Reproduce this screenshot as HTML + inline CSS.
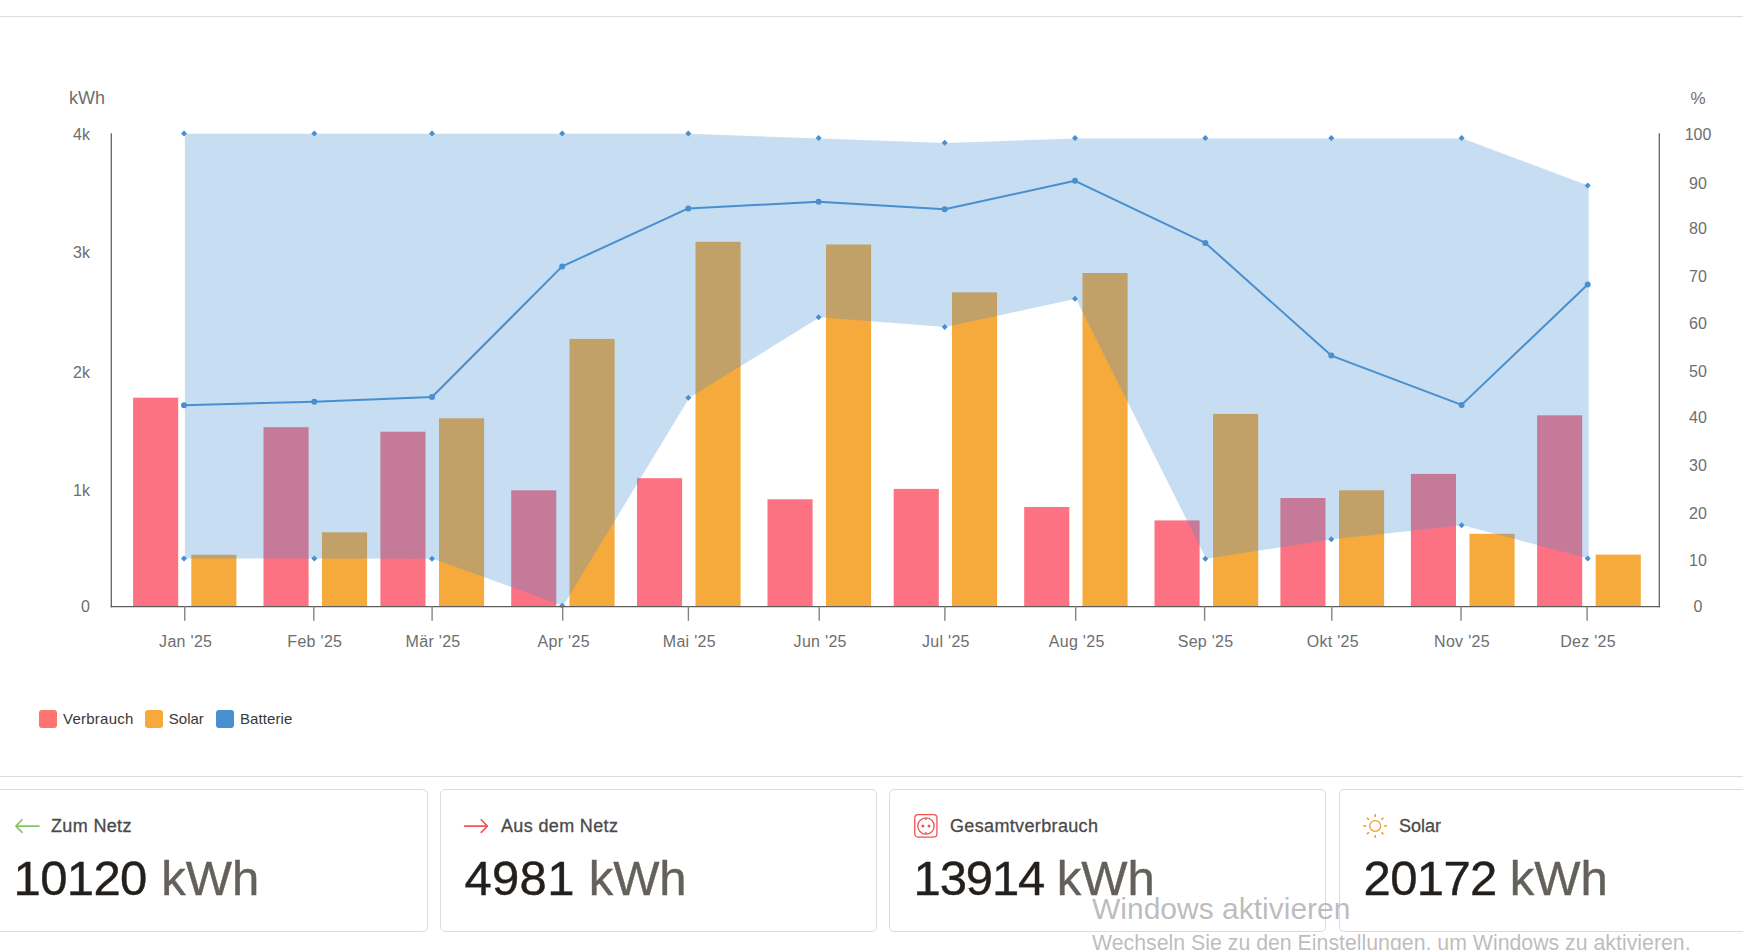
<!DOCTYPE html>
<html><head><meta charset="utf-8">
<style>
html,body{margin:0;padding:0;background:#fff;}
body{width:1743px;height:950px;overflow:hidden;position:relative;font-family:"Liberation Sans",sans-serif;}
.topline{position:absolute;left:0;top:16px;width:1743px;height:1px;background:#dddddd;}
.chart{position:absolute;left:0;top:0;}
.legend{position:absolute;top:710px;left:0;height:18px;}
.lg{position:absolute;top:0;height:18px;}
.sw{position:absolute;left:0;top:0;width:18px;height:18px;border-radius:3px;}
.lt{position:absolute;top:1px;font-size:15px;line-height:16px;color:#383838;white-space:nowrap;letter-spacing:0.25px;}
.sep{position:absolute;left:0;top:776px;width:1743px;height:1px;background:#dedcd9;}
.card{position:absolute;top:789px;width:435px;height:141px;border:1px solid #dedcd9;border-radius:5px;box-sizing:content-box;}
.ic{position:absolute;left:24px;top:24px;width:25px;height:25px;overflow:visible;}
.ct{position:absolute;left:60px;top:26px;font-size:18px;line-height:20px;color:#4a4a4a;white-space:nowrap;letter-spacing:0.35px;-webkit-text-stroke:0.3px #4a4a4a;}
.num{position:absolute;left:23.5px;top:59.5px;font-size:49px;line-height:56px;color:#231f1c;white-space:nowrap;letter-spacing:-0.6px;-webkit-text-stroke-width:0.4px;}
.num span{color:#64605c;letter-spacing:0;}
.wm1{position:absolute;left:1092px;top:891.5px;font-size:30px;line-height:34px;color:rgba(160,160,160,0.7);white-space:nowrap;}
.wm2{position:absolute;left:1092px;top:929.5px;font-size:21.3px;line-height:26px;color:rgba(160,160,160,0.7);white-space:nowrap;}
</style></head><body>
<div class="topline"></div>
<svg class="chart" width="1743" height="770" viewBox="0 0 1743 770">
<rect x="133.1" y="397.7" width="45.1" height="208.8" fill="#FC7282"/>
<rect x="191.3" y="554.8" width="45.1" height="51.7" fill="#F7AA3C"/>
<rect x="263.5" y="427.2" width="45.1" height="179.3" fill="#FC7282"/>
<rect x="322" y="532.3" width="45.1" height="74.2" fill="#F7AA3C"/>
<rect x="380.4" y="431.7" width="45.1" height="174.8" fill="#FC7282"/>
<rect x="439" y="418.3" width="45.1" height="188.2" fill="#F7AA3C"/>
<rect x="511.2" y="490.3" width="45.1" height="116.2" fill="#FC7282"/>
<rect x="569.5" y="338.9" width="45.1" height="267.6" fill="#F7AA3C"/>
<rect x="637" y="478.2" width="45.1" height="128.3" fill="#FC7282"/>
<rect x="695.5" y="241.8" width="45.1" height="364.7" fill="#F7AA3C"/>
<rect x="767.5" y="499.3" width="45.1" height="107.2" fill="#FC7282"/>
<rect x="826" y="244.5" width="45.1" height="362.0" fill="#F7AA3C"/>
<rect x="893.7" y="488.9" width="45.1" height="117.6" fill="#FC7282"/>
<rect x="952" y="292.4" width="45.1" height="314.1" fill="#F7AA3C"/>
<rect x="1024.2" y="507" width="45.1" height="99.5" fill="#FC7282"/>
<rect x="1082.5" y="273" width="45.1" height="333.5" fill="#F7AA3C"/>
<rect x="1154.5" y="520.4" width="45.1" height="86.1" fill="#FC7282"/>
<rect x="1213.1" y="413.9" width="45.1" height="192.6" fill="#F7AA3C"/>
<rect x="1280.4" y="498" width="45.1" height="108.5" fill="#FC7282"/>
<rect x="1339" y="490.3" width="45.1" height="116.2" fill="#F7AA3C"/>
<rect x="1410.9" y="473.9" width="45.1" height="132.6" fill="#FC7282"/>
<rect x="1469.5" y="533.8" width="45.1" height="72.7" fill="#F7AA3C"/>
<rect x="1537.1" y="415.3" width="45.1" height="191.2" fill="#FC7282"/>
<rect x="1595.7" y="554.6" width="45.1" height="51.9" fill="#F7AA3C"/>
<polygon points="184.9,133.8 315.2,133.8 432.9,133.8 563.2,133.8 689.3,133.8 819.6,138.5 945.6,143.1 1075.9,138.5 1206.2,138.5 1332.3,138.5 1462.6,138.5 1588.7,185.8 1588.7,558.4 1462.6,525.3 1332.3,539.3 1206.2,558.7 1075.9,298.7 945.6,326.9 819.6,317.3 689.3,397.8 563.2,605.8 432.9,558.7 315.2,558.6 184.9,558.6" fill="#478FCF" fill-opacity="0.3"/>
<polyline points="184.0,405.3 314.3,401.7 432.0,397.0 562.2,266.4 688.3,208.4 818.6,201.8 944.7,209.2 1075.0,180.8 1205.3,242.9 1331.3,355.6 1461.6,404.9 1587.7,284.5" fill="none" stroke="#478FCF" stroke-width="2" stroke-linejoin="round"/>
<path d="M184.0 130.4L187.0 133.4L184.0 136.4L181.0 133.4Z" fill="#478FCF"/>
<path d="M184.0 555.6L187.0 558.6L184.0 561.6L181.0 558.6Z" fill="#478FCF"/>
<circle cx="184.0" cy="405.3" r="3" fill="#478FCF"/>
<path d="M314.3 130.4L317.3 133.4L314.3 136.4L311.3 133.4Z" fill="#478FCF"/>
<path d="M314.3 555.6L317.3 558.6L314.3 561.6L311.3 558.6Z" fill="#478FCF"/>
<circle cx="314.3" cy="401.7" r="3" fill="#478FCF"/>
<path d="M432.0 130.4L435.0 133.4L432.0 136.4L429.0 133.4Z" fill="#478FCF"/>
<path d="M432.0 555.7L435.0 558.7L432.0 561.7L429.0 558.7Z" fill="#478FCF"/>
<circle cx="432.0" cy="397.0" r="3" fill="#478FCF"/>
<path d="M562.2 130.4L565.2 133.4L562.2 136.4L559.2 133.4Z" fill="#478FCF"/>
<path d="M562.2 602.8L565.2 605.8L562.2 608.8L559.2 605.8Z" fill="#478FCF"/>
<circle cx="562.2" cy="266.4" r="3" fill="#478FCF"/>
<path d="M688.3 130.4L691.3 133.4L688.3 136.4L685.3 133.4Z" fill="#478FCF"/>
<path d="M688.3 394.8L691.3 397.8L688.3 400.8L685.3 397.8Z" fill="#478FCF"/>
<circle cx="688.3" cy="208.4" r="3" fill="#478FCF"/>
<path d="M818.6 135.1L821.6 138.1L818.6 141.1L815.6 138.1Z" fill="#478FCF"/>
<path d="M818.6 314.3L821.6 317.3L818.6 320.3L815.6 317.3Z" fill="#478FCF"/>
<circle cx="818.6" cy="201.8" r="3" fill="#478FCF"/>
<path d="M944.7 139.7L947.7 142.7L944.7 145.7L941.7 142.7Z" fill="#478FCF"/>
<path d="M944.7 323.9L947.7 326.9L944.7 329.9L941.7 326.9Z" fill="#478FCF"/>
<circle cx="944.7" cy="209.2" r="3" fill="#478FCF"/>
<path d="M1075.0 135.1L1078.0 138.1L1075.0 141.1L1072.0 138.1Z" fill="#478FCF"/>
<path d="M1075.0 295.7L1078.0 298.7L1075.0 301.7L1072.0 298.7Z" fill="#478FCF"/>
<circle cx="1075.0" cy="180.8" r="3" fill="#478FCF"/>
<path d="M1205.3 135.1L1208.3 138.1L1205.3 141.1L1202.3 138.1Z" fill="#478FCF"/>
<path d="M1205.3 555.7L1208.3 558.7L1205.3 561.7L1202.3 558.7Z" fill="#478FCF"/>
<circle cx="1205.3" cy="242.9" r="3" fill="#478FCF"/>
<path d="M1331.3 135.1L1334.3 138.1L1331.3 141.1L1328.3 138.1Z" fill="#478FCF"/>
<path d="M1331.3 536.3L1334.3 539.3L1331.3 542.3L1328.3 539.3Z" fill="#478FCF"/>
<circle cx="1331.3" cy="355.6" r="3" fill="#478FCF"/>
<path d="M1461.6 135.1L1464.6 138.1L1461.6 141.1L1458.6 138.1Z" fill="#478FCF"/>
<path d="M1461.6 522.3L1464.6 525.3L1461.6 528.3L1458.6 525.3Z" fill="#478FCF"/>
<circle cx="1461.6" cy="404.9" r="3" fill="#478FCF"/>
<path d="M1587.7 182.4L1590.7 185.4L1587.7 188.4L1584.7 185.4Z" fill="#478FCF"/>
<path d="M1587.7 555.4L1590.7 558.4L1587.7 561.4L1584.7 558.4Z" fill="#478FCF"/>
<circle cx="1587.7" cy="284.5" r="3" fill="#478FCF"/>
<path d="M111.3 133.3V607.3" stroke="#5f5d59" stroke-width="1.25" fill="none"/>
<path d="M1659.3 133.3V607.3" stroke="#5f5d59" stroke-width="1.25" fill="none"/>
<path d="M110.7 606.7H1660" stroke="#5f5d59" stroke-width="1.25" fill="none"/>
<path d="M184.74 606V620.8" stroke="#858480" stroke-width="1.4" fill="none"/>
<path d="M313.8 606V620.8" stroke="#858480" stroke-width="1.4" fill="none"/>
<path d="M432.1 606V620.8" stroke="#858480" stroke-width="1.4" fill="none"/>
<path d="M562.7 606V620.8" stroke="#858480" stroke-width="1.4" fill="none"/>
<path d="M688.4 606V620.8" stroke="#858480" stroke-width="1.4" fill="none"/>
<path d="M819.2 606V620.8" stroke="#858480" stroke-width="1.4" fill="none"/>
<path d="M944.9 606V620.8" stroke="#858480" stroke-width="1.4" fill="none"/>
<path d="M1075.7 606V620.8" stroke="#858480" stroke-width="1.4" fill="none"/>
<path d="M1204.6 606V620.8" stroke="#858480" stroke-width="1.4" fill="none"/>
<path d="M1331.8 606V620.8" stroke="#858480" stroke-width="1.4" fill="none"/>
<path d="M1461 606V620.8" stroke="#858480" stroke-width="1.4" fill="none"/>
<path d="M1587.1 606V620.8" stroke="#858480" stroke-width="1.4" fill="none"/>
<text x="185.7" y="647" text-anchor="middle" font-size="16" letter-spacing="0.3" fill="#6e6e6e" font-family="Liberation Sans, sans-serif">Jan '25</text>
<text x="314.8" y="647" text-anchor="middle" font-size="16" letter-spacing="0.3" fill="#6e6e6e" font-family="Liberation Sans, sans-serif">Feb '25</text>
<text x="433.1" y="647" text-anchor="middle" font-size="16" letter-spacing="0.3" fill="#6e6e6e" font-family="Liberation Sans, sans-serif">Mär '25</text>
<text x="563.7" y="647" text-anchor="middle" font-size="16" letter-spacing="0.3" fill="#6e6e6e" font-family="Liberation Sans, sans-serif">Apr '25</text>
<text x="689.4" y="647" text-anchor="middle" font-size="16" letter-spacing="0.3" fill="#6e6e6e" font-family="Liberation Sans, sans-serif">Mai '25</text>
<text x="820.2" y="647" text-anchor="middle" font-size="16" letter-spacing="0.3" fill="#6e6e6e" font-family="Liberation Sans, sans-serif">Jun '25</text>
<text x="945.9" y="647" text-anchor="middle" font-size="16" letter-spacing="0.3" fill="#6e6e6e" font-family="Liberation Sans, sans-serif">Jul '25</text>
<text x="1076.7" y="647" text-anchor="middle" font-size="16" letter-spacing="0.3" fill="#6e6e6e" font-family="Liberation Sans, sans-serif">Aug '25</text>
<text x="1205.6" y="647" text-anchor="middle" font-size="16" letter-spacing="0.3" fill="#6e6e6e" font-family="Liberation Sans, sans-serif">Sep '25</text>
<text x="1332.8" y="647" text-anchor="middle" font-size="16" letter-spacing="0.3" fill="#6e6e6e" font-family="Liberation Sans, sans-serif">Okt '25</text>
<text x="1462.0" y="647" text-anchor="middle" font-size="16" letter-spacing="0.3" fill="#6e6e6e" font-family="Liberation Sans, sans-serif">Nov '25</text>
<text x="1588.1" y="647" text-anchor="middle" font-size="16" letter-spacing="0.3" fill="#6e6e6e" font-family="Liberation Sans, sans-serif">Dez '25</text>
<text x="90" y="140" text-anchor="end" font-size="16" fill="#6e6e6e" font-family="Liberation Sans, sans-serif">4k</text>
<text x="90" y="258.3" text-anchor="end" font-size="16" fill="#6e6e6e" font-family="Liberation Sans, sans-serif">3k</text>
<text x="90" y="378" text-anchor="end" font-size="16" fill="#6e6e6e" font-family="Liberation Sans, sans-serif">2k</text>
<text x="90" y="495.7" text-anchor="end" font-size="16" fill="#6e6e6e" font-family="Liberation Sans, sans-serif">1k</text>
<text x="90" y="612" text-anchor="end" font-size="16" fill="#6e6e6e" font-family="Liberation Sans, sans-serif">0</text>
<text x="1698" y="140.0" text-anchor="middle" font-size="16" fill="#6e6e6e" font-family="Liberation Sans, sans-serif">100</text>
<text x="1698" y="188.7" text-anchor="middle" font-size="16" fill="#6e6e6e" font-family="Liberation Sans, sans-serif">90</text>
<text x="1698" y="234.0" text-anchor="middle" font-size="16" fill="#6e6e6e" font-family="Liberation Sans, sans-serif">80</text>
<text x="1698" y="281.5" text-anchor="middle" font-size="16" fill="#6e6e6e" font-family="Liberation Sans, sans-serif">70</text>
<text x="1698" y="329.0" text-anchor="middle" font-size="16" fill="#6e6e6e" font-family="Liberation Sans, sans-serif">60</text>
<text x="1698" y="376.9" text-anchor="middle" font-size="16" fill="#6e6e6e" font-family="Liberation Sans, sans-serif">50</text>
<text x="1698" y="423.1" text-anchor="middle" font-size="16" fill="#6e6e6e" font-family="Liberation Sans, sans-serif">40</text>
<text x="1698" y="471.0" text-anchor="middle" font-size="16" fill="#6e6e6e" font-family="Liberation Sans, sans-serif">30</text>
<text x="1698" y="518.5" text-anchor="middle" font-size="16" fill="#6e6e6e" font-family="Liberation Sans, sans-serif">20</text>
<text x="1698" y="566.0" text-anchor="middle" font-size="16" fill="#6e6e6e" font-family="Liberation Sans, sans-serif">10</text>
<text x="1698" y="612.3" text-anchor="middle" font-size="16" fill="#6e6e6e" font-family="Liberation Sans, sans-serif">0</text>
<text x="69" y="104" font-size="18" fill="#6e6e6e" font-family="Liberation Sans, sans-serif">kWh</text>
<text x="1698" y="104" text-anchor="middle" font-size="17" fill="#6e6e6e" font-family="Liberation Sans, sans-serif">%</text>
</svg>
<div class="legend">
 <div class="lg" style="left:39px"><div class="sw" style="background:#FC7370"></div><div class="lt" style="left:24px">Verbrauch</div></div>
 <div class="lg" style="left:145px"><div class="sw" style="background:#F7AA3C"></div><div class="lt" style="left:23.8px;letter-spacing:0">Solar</div></div>
 <div class="lg" style="left:216px"><div class="sw" style="background:#478FCF"></div><div class="lt" style="left:24px;letter-spacing:0.1px">Batterie</div></div>
</div>
<div class="sep"></div>
<div class="card" style="left:-9px">
 <svg class="ic" viewBox="0 0 25 25"><path d="M23.1 12.1H0M6.1 5.7L-0.1 12.1L6.1 18.4" stroke="#84c664" stroke-width="1.6" fill="none" stroke-linecap="round" stroke-linejoin="round"/></svg>
 <div class="ct" style="left:59px">Zum Netz</div>
 <div class="num" style="left:21.5px">10120 <span style="margin-left:1.5px">kWh</span></div>
</div>
<div class="card" style="left:440px">
 <svg class="ic" viewBox="0 0 25 25"><path d="M-0.4 12.1H22.4M16.2 5.7L22.4 12.1L16.2 18.4" stroke="#f05656" stroke-width="1.6" fill="none" stroke-linecap="round" stroke-linejoin="round"/></svg>
 <div class="ct">Aus dem Netz</div>
 <div class="num" style="letter-spacing:0.3px">4981 <span>kWh</span></div>
</div>
<div class="card" style="left:889px">
 <svg class="ic" viewBox="0 0 25 25"><rect x="0.75" y="0.65" width="22.2" height="22.4" rx="3.2" stroke="#f25252" stroke-width="1.3" fill="none"/><circle cx="12" cy="12" r="8.2" stroke="#f25252" stroke-width="1.3" fill="none"/><circle cx="8.9" cy="12" r="1.5" fill="#f25252"/><circle cx="15" cy="12" r="1.5" fill="#f25252"/><path d="M11.8 3.8V6M11.8 18V20.2" stroke="#f25252" stroke-width="1.3"/></svg>
 <div class="ct">Gesamtverbrauch</div>
 <div class="num" style="letter-spacing:-1.1px">13914 <span>kWh</span></div>
</div>
<div class="card" style="left:1339px">
 <svg class="ic" viewBox="0 0 25 25"><circle cx="11.2" cy="11.95" r="5.4" stroke="#f39a2d" stroke-width="1.3" fill="none"/><g stroke="#f39a2d" stroke-width="1.7" stroke-linecap="round" transform="translate(11.2 11.95)"><path d="M9.80 0.00L11.00 0.00M6.86 6.86L7.71 7.71M0.00 9.80L0.00 11.00M-6.86 6.86L-7.71 7.71M-9.80 0.00L-11.00 0.00M-6.86 -6.86L-7.71 -7.71M-0.00 -9.80L-0.00 -11.00M6.86 -6.86L7.71 -7.71"/></g></svg>
 <div class="ct" style="left:59px;letter-spacing:0">Solar</div>
 <div class="num">20172 <span>kWh</span></div>
</div>
<div class="wm1">Windows aktivieren</div>
<div class="wm2">Wechseln Sie zu den Einstellungen, um Windows zu aktivieren.</div>
</body></html>
